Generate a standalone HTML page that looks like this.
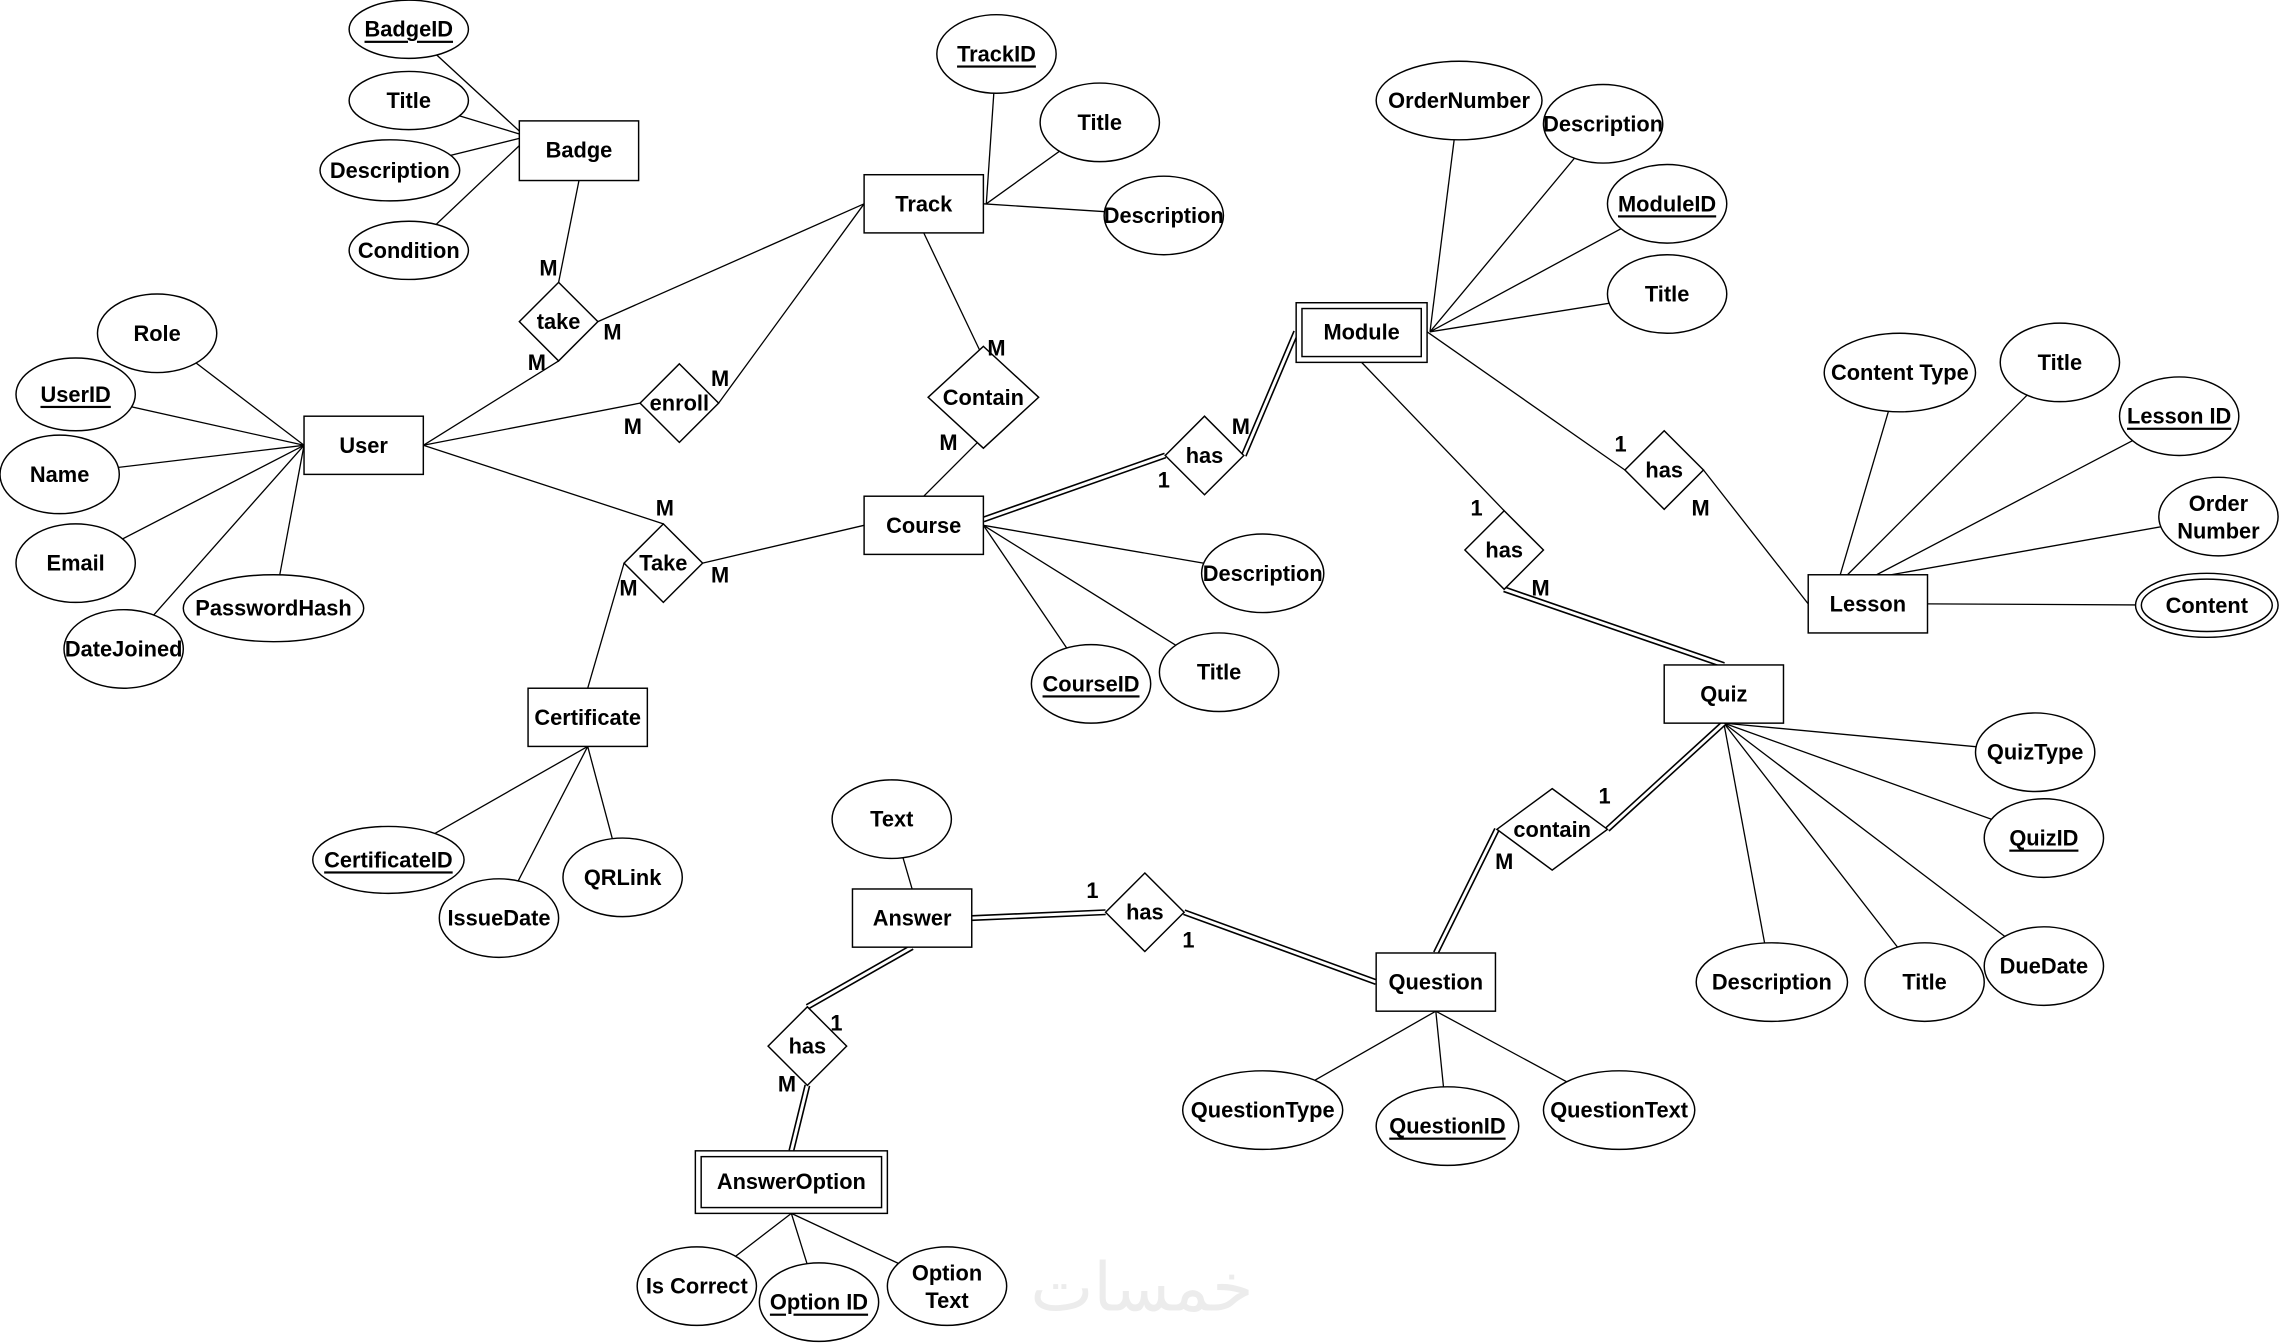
<!DOCTYPE html>
<html><head><meta charset="utf-8"><style>
html,body{margin:0;padding:0;background:#fff}
svg{display:block}
text{font-family:"Liberation Sans",Arial,sans-serif;font-weight:bold;font-size:15px;fill:#000;text-anchor:middle;dominant-baseline:central}
.e,.r,.d{fill:#fff;stroke:#000;stroke-width:1}
.l{stroke:#000;stroke-width:0.9;fill:none}
.dl1{stroke:#000;stroke-width:4.2;fill:none}
.dl2{stroke:#fff;stroke-width:2;fill:none}
</style></head><body>
<svg width="2281" height="1343" viewBox="0 0 1568 923" xmlns="http://www.w3.org/2000/svg">
<!-- attribute lines -->
<g class="l">
<line x1="281" y1="20" x2="357" y2="90"/><line x1="281" y1="69" x2="357" y2="92"/><line x1="268" y1="117" x2="357" y2="95"/><line x1="281" y1="172" x2="357" y2="100"/>
<line x1="685" y1="37" x2="678" y2="140"/><line x1="756" y1="84" x2="678" y2="140"/><line x1="800" y1="148" x2="676" y2="140"/>
<line x1="108" y1="229" x2="209" y2="306"/><line x1="52" y1="271" x2="209" y2="306"/><line x1="41" y1="326" x2="209" y2="306"/><line x1="52" y1="387" x2="209" y2="306"/><line x1="85" y1="446" x2="209" y2="306"/><line x1="188" y1="418" x2="209" y2="306"/>
<line x1="1003" y1="69" x2="983" y2="228"/><line x1="1102" y1="85" x2="983" y2="228"/><line x1="1146" y1="140" x2="983" y2="228"/><line x1="1146" y1="202" x2="983" y2="228"/>
<line x1="1306" y1="256" x2="1265" y2="395"/><line x1="1416" y1="249" x2="1270" y2="395"/><line x1="1498" y1="286" x2="1290" y2="395"/><line x1="1525" y1="355" x2="1300" y2="395"/><line x1="1517" y1="416" x2="1325" y2="415"/>
<line x1="868" y1="394" x2="676" y2="361"/><line x1="750" y1="470" x2="676" y2="361"/><line x1="838" y1="462" x2="676" y2="361"/>
<line x1="1399" y1="517" x2="1185" y2="497"/><line x1="1405" y1="576" x2="1185" y2="497"/><line x1="1218" y1="675" x2="1185" y2="497"/><line x1="1323" y1="675" x2="1185" y2="497"/><line x1="1405" y1="664" x2="1185" y2="497"/>
<line x1="267" y1="591" x2="404" y2="513"/><line x1="343" y1="631" x2="404" y2="513"/><line x1="428" y1="603" x2="404" y2="513"/>
<line x1="613" y1="563" x2="627" y2="611"/>
<line x1="868" y1="763" x2="987" y2="695"/><line x1="995" y1="774" x2="987" y2="695"/><line x1="1113" y1="763" x2="987" y2="695"/>
<line x1="479" y1="884" x2="544" y2="834"/><line x1="563" y1="895" x2="544" y2="834"/><line x1="651" y1="884" x2="544" y2="834"/>
<!-- relationship lines -->
<line x1="398" y1="124" x2="384" y2="194"/><line x1="384" y1="248" x2="291" y2="306"/><line x1="411" y1="221" x2="594" y2="140"/>
<line x1="440" y1="277" x2="291" y2="306"/><line x1="494" y1="277" x2="594" y2="140"/>
<line x1="635" y1="160" x2="676" y2="246"/><line x1="676" y1="300" x2="635" y2="341"/>
<line x1="291" y1="306" x2="456" y2="360"/><line x1="483" y1="387" x2="594" y2="361"/><line x1="429" y1="387" x2="404" y2="473"/>
<line x1="981" y1="228" x2="1117" y2="323"/><line x1="1171" y1="323" x2="1243" y2="415"/>
<line x1="936" y1="249" x2="1034" y2="351"/>
</g>
<!-- double lines -->
<g>
<path class="dl1" d="M676 357 L801 313 M855 313 L891 228 M1034 405 L1185 457 M1185 497 L1105 570 M1029 570 L987 655 M668 631 L760 627 M814 627 L946 675 M627 651 L555 692 M555 746 L544 791"/>
<path class="dl2" d="M676 357 L801 313 M855 313 L891 228 M1034 405 L1185 457 M1185 497 L1105 570 M1029 570 L987 655 M668 631 L760 627 M814 627 L946 675 M627 651 L555 692 M555 746 L544 791"/>
</g>
<!-- entities -->
<rect class="r" x="357" y="83" width="82" height="41"/>
<rect class="r" x="594" y="120" width="82" height="40"/>
<rect class="r" x="209" y="286" width="82" height="40"/>
<rect class="r" x="891" y="208" width="90" height="41"/><rect class="r" x="895" y="212" width="82" height="33"/>
<rect class="r" x="594" y="341" width="82" height="40"/>
<rect class="r" x="1243" y="395" width="82" height="40"/>
<rect class="r" x="1144" y="457" width="82" height="40"/>
<rect class="r" x="363" y="473" width="82" height="40"/>
<rect class="r" x="586" y="611" width="82" height="40"/>
<rect class="r" x="946" y="655" width="82" height="40"/>
<rect class="r" x="478" y="791" width="132" height="43"/><rect class="r" x="482" y="795" width="124" height="35"/>
<!-- diamonds -->
<g class="d">
<polygon points="384,194 411,221 384,248 357,221"/>
<polygon points="467,250 494,277 467,304 440,277"/>
<polygon points="676,238 714,273 676,308 638,273"/>
<polygon points="456,360 483,387 456,414 429,387"/>
<polygon points="828,286 855,313 828,340 801,313"/>
<polygon points="1144,296 1171,323 1144,350 1117,323"/>
<polygon points="1034,351 1061,378 1034,405 1007,378"/>
<polygon points="1067,542 1105,570 1067,598 1029,570"/>
<polygon points="787,600 814,627 787,654 760,627"/>
<polygon points="555,692 582,719 555,746 528,719"/>
</g>
<!-- ellipses -->
<g class="e">
<ellipse cx="281" cy="20" rx="41" ry="20"/><ellipse cx="281" cy="69" rx="41" ry="20"/><ellipse cx="268" cy="117" rx="48" ry="21"/><ellipse cx="281" cy="172" rx="41" ry="20"/>
<ellipse cx="685" cy="37" rx="41" ry="27"/><ellipse cx="756" cy="84" rx="41" ry="27"/><ellipse cx="800" cy="148" rx="41" ry="27"/>
<ellipse cx="108" cy="229" rx="41" ry="27"/><ellipse cx="52" cy="271" rx="41" ry="25"/><ellipse cx="41" cy="326" rx="41" ry="27"/><ellipse cx="52" cy="387" rx="41" ry="27"/><ellipse cx="85" cy="446" rx="41" ry="27"/><ellipse cx="188" cy="418" rx="62" ry="23"/>
<ellipse cx="1003" cy="69" rx="57" ry="27"/><ellipse cx="1102" cy="85" rx="41" ry="27"/><ellipse cx="1146" cy="140" rx="41" ry="27"/><ellipse cx="1146" cy="202" rx="41" ry="27"/>
<ellipse cx="1306" cy="256" rx="52" ry="27"/><ellipse cx="1416" cy="249" rx="41" ry="27"/><ellipse cx="1498" cy="286" rx="41" ry="27"/><ellipse cx="1525" cy="355" rx="41" ry="27"/>
<ellipse cx="1517" cy="416" rx="49" ry="22"/><ellipse cx="1517" cy="416" rx="45" ry="18"/>
<ellipse cx="868" cy="394" rx="42" ry="27"/><ellipse cx="750" cy="470" rx="41" ry="27"/><ellipse cx="838" cy="462" rx="41" ry="27"/>
<ellipse cx="1399" cy="517" rx="41" ry="27"/><ellipse cx="1405" cy="576" rx="41" ry="27"/><ellipse cx="1218" cy="675" rx="52" ry="27"/><ellipse cx="1323" cy="675" rx="41" ry="27"/><ellipse cx="1405" cy="664" rx="41" ry="27"/>
<ellipse cx="267" cy="591" rx="52" ry="23"/><ellipse cx="343" cy="631" rx="41" ry="27"/><ellipse cx="428" cy="603" rx="41" ry="27"/>
<ellipse cx="613" cy="563" rx="41" ry="27"/>
<ellipse cx="868" cy="763" rx="55" ry="27"/><ellipse cx="995" cy="774" rx="49" ry="27"/><ellipse cx="1113" cy="763" rx="52" ry="27"/>
<ellipse cx="479" cy="884" rx="41" ry="27"/><ellipse cx="563" cy="895" rx="41" ry="27"/><ellipse cx="651" cy="884" rx="41" ry="27"/>
</g>
<!-- watermark -->
<text x="785" y="885" style="font-family:'DejaVu Sans',sans-serif;font-size:46px;fill:#ececec;font-weight:normal">خمسات</text>
<!-- labels -->
<g>
<text x="398" y="103">Badge</text><text x="635" y="140">Track</text><text x="250" y="306">User</text><text x="936" y="228">Module</text><text x="635" y="361">Course</text><text x="1284" y="415">Lesson</text><text x="1185" y="477">Quiz</text><text x="404" y="493">Certificate</text><text x="627" y="631">Answer</text><text x="987" y="675">Question</text><text x="544" y="812">AnswerOption</text>
<text x="384" y="221">take</text><text x="467" y="277">enroll</text><text x="676" y="273">Contain</text><text x="456" y="387">Take</text><text x="828" y="313">has</text><text x="1144" y="323">has</text><text x="1034" y="378">has</text><text x="1067" y="570">contain</text><text x="787" y="627">has</text><text x="555" y="719">has</text>
<text x="281" y="20" text-decoration="underline">BadgeID</text><text x="281" y="69">Title</text><text x="268" y="117">Description</text><text x="281" y="172">Condition</text>
<text x="685" y="37" text-decoration="underline">TrackID</text><text x="756" y="84">Title</text><text x="800" y="148">Description</text>
<text x="108" y="229">Role</text><text x="52" y="271" text-decoration="underline">UserID</text><text x="41" y="326">Name</text><text x="52" y="387">Email</text><text x="85" y="446">DateJoined</text><text x="188" y="418">PasswordHash</text>
<text x="1003" y="69">OrderNumber</text><text x="1102" y="85">Description</text><text x="1146" y="140" text-decoration="underline">ModuleID</text><text x="1146" y="202">Title</text>
<text x="1306" y="256">Content Type</text><text x="1416" y="249">Title</text><text x="1498" y="286" text-decoration="underline">Lesson ID</text><text x="1525" y="346">Order</text><text x="1525" y="365">Number</text><text x="1517" y="416">Content</text>
<text x="868" y="394">Description</text><text x="750" y="470" text-decoration="underline">CourseID</text><text x="838" y="462">Title</text>
<text x="1399" y="517">QuizType</text><text x="1405" y="576" text-decoration="underline">QuizID</text><text x="1218" y="675">Description</text><text x="1323" y="675">Title</text><text x="1405" y="664">DueDate</text>
<text x="267" y="591" text-decoration="underline">CertificateID</text><text x="343" y="631">IssueDate</text><text x="428" y="603">QRLink</text>
<text x="613" y="563">Text</text>
<text x="868" y="763">QuestionType</text><text x="995" y="774" text-decoration="underline">QuestionID</text><text x="1113" y="763">QuestionText</text>
<text x="479" y="884">Is Correct</text><text x="563" y="895" text-decoration="underline">Option ID</text><text x="651" y="875">Option</text><text x="651" y="894">Text</text>
<!-- cardinalities -->
<text x="377" y="184">M</text><text x="369" y="249">M</text><text x="421" y="228">M</text>
<text x="435" y="293">M</text><text x="495" y="260">M</text>
<text x="685" y="239">M</text><text x="652" y="304">M</text>
<text x="457" y="349">M</text><text x="495" y="395">M</text><text x="432" y="404">M</text>
<text x="800" y="330">1</text><text x="853" y="293">M</text>
<text x="1114" y="305">1</text><text x="1169" y="349">M</text>
<text x="1015" y="349">1</text><text x="1059" y="404">M</text>
<text x="1103" y="547">1</text><text x="1034" y="592">M</text>
<text x="751" y="612">1</text><text x="817" y="646">1</text>
<text x="575" y="703">1</text><text x="541" y="745">M</text>
</g>
</svg>
</body></html>
